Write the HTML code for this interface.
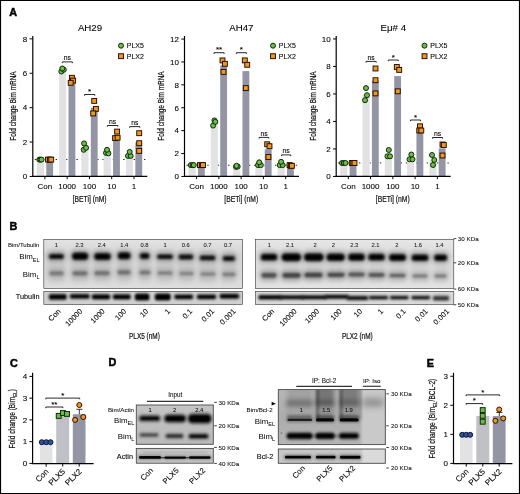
<!DOCTYPE html>
<html><head><meta charset="utf-8"><title>Figure</title>
<style>
html,body{margin:0;padding:0;background:#fff;}
body{width:520px;height:494px;overflow:hidden;font-family:"Liberation Sans",sans-serif;}
svg{display:block;font-family:"Liberation Sans",sans-serif;}
</style></head><body>
<svg width="520" height="494" viewBox="0 0 520 494">
<defs>
<filter id="b05" x="-20%" y="-50%" width="140%" height="200%"><feGaussianBlur stdDeviation="0.5"/></filter>
<filter id="b08" x="-20%" y="-60%" width="140%" height="220%"><feGaussianBlur stdDeviation="0.8"/></filter>
<filter id="b12" x="-30%" y="-80%" width="160%" height="260%"><feGaussianBlur stdDeviation="1.2"/></filter>
<filter id="b20" x="-40%" y="-100%" width="180%" height="300%"><feGaussianBlur stdDeviation="2"/></filter>
<filter id="b35" x="-50%" y="-100%" width="200%" height="300%"><feGaussianBlur stdDeviation="3.5"/></filter>
<linearGradient id="gB" x1="0" y1="0" x2="0" y2="1"><stop offset="0" stop-color="#e3e3e3"/><stop offset="0.32" stop-color="#d4d4d4"/><stop offset="0.72" stop-color="#d6d6d6"/><stop offset="1" stop-color="#dedede"/></linearGradient>
<linearGradient id="gB2" x1="0" y1="0" x2="0" y2="1"><stop offset="0" stop-color="#e7e7e7"/><stop offset="0.32" stop-color="#dbdbdb"/><stop offset="0.72" stop-color="#dcdcdc"/><stop offset="1" stop-color="#e3e3e3"/></linearGradient>
<linearGradient id="gD" x1="0" y1="0" x2="0" y2="1"><stop offset="0" stop-color="#c4c4c4"/><stop offset="1" stop-color="#b9b9b9"/></linearGradient>
<linearGradient id="gIP" x1="0" y1="0" x2="0" y2="1"><stop offset="0" stop-color="#b6b6b6"/><stop offset="0.5" stop-color="#adadad"/><stop offset="1" stop-color="#b4b4b4"/></linearGradient>
</defs>
<rect x="0" y="0" width="520" height="494" fill="#fff"/>
<g opacity="0.999">

<text x="9.30" y="16.30" font-size="10.8" text-anchor="start" font-weight="bold" fill="#000" stroke="#000" stroke-width="0.5">A</text>
<line x1="33.8" y1="159.50" x2="147.3" y2="159.50" stroke="#000" stroke-width="0.85" stroke-dasharray="1.4 3.8" stroke-dashoffset="-1"/>
<rect x="36.80" y="159.60" width="7.15" height="16.60" fill="#e2e2e5"/>
<rect x="46.25" y="159.60" width="6.85" height="16.60" fill="#9395a4"/>
<rect x="59.07" y="69.90" width="7.15" height="106.30" fill="#e2e2e5"/>
<rect x="68.52" y="80.40" width="6.85" height="95.80" fill="#9395a4"/>
<rect x="81.34" y="147.00" width="7.15" height="29.20" fill="#e2e2e5"/>
<rect x="90.79" y="107.73" width="6.85" height="68.47" fill="#9395a4"/>
<rect x="103.61" y="152.00" width="7.15" height="24.20" fill="#e2e2e5"/>
<rect x="113.06" y="135.80" width="6.85" height="40.40" fill="#9395a4"/>
<rect x="125.88" y="154.57" width="7.15" height="21.63" fill="#e2e2e5"/>
<rect x="135.33" y="142.43" width="6.85" height="33.77" fill="#9395a4"/>
<line x1="32.8" y1="36.0" x2="32.8" y2="177.04999999999998" stroke="#000" stroke-width="1.2"/>
<line x1="32.199999999999996" y1="176.45" x2="147.3" y2="176.45" stroke="#000" stroke-width="1.2"/>
<line x1="29.599999999999998" y1="176.45" x2="32.8" y2="176.45" stroke="#000" stroke-width="1.0"/>
<text x="27.30" y="179.20" font-size="8" text-anchor="end" font-weight="normal" fill="#000" stroke="#000" stroke-width="0.1">0</text>
<line x1="29.599999999999998" y1="142.05" x2="32.8" y2="142.05" stroke="#000" stroke-width="1.0"/>
<text x="27.30" y="144.80" font-size="8" text-anchor="end" font-weight="normal" fill="#000" stroke="#000" stroke-width="0.1">2</text>
<line x1="29.599999999999998" y1="107.65" x2="32.8" y2="107.65" stroke="#000" stroke-width="1.0"/>
<text x="27.30" y="110.40" font-size="8" text-anchor="end" font-weight="normal" fill="#000" stroke="#000" stroke-width="0.1">4</text>
<line x1="29.599999999999998" y1="73.25" x2="32.8" y2="73.25" stroke="#000" stroke-width="1.0"/>
<text x="27.30" y="76.00" font-size="8" text-anchor="end" font-weight="normal" fill="#000" stroke="#000" stroke-width="0.1">6</text>
<line x1="29.599999999999998" y1="38.85" x2="32.8" y2="38.85" stroke="#000" stroke-width="1.0"/>
<text x="27.30" y="41.60" font-size="8" text-anchor="end" font-weight="normal" fill="#000" stroke="#000" stroke-width="0.1">8</text>
<line x1="44.90" y1="176.2" x2="44.90" y2="179.2" stroke="#000" stroke-width="1.0"/>
<text x="44.90" y="189.40" font-size="8" text-anchor="middle" font-weight="normal" fill="#000" stroke="#000" stroke-width="0.1">Con</text>
<line x1="67.17" y1="176.2" x2="67.17" y2="179.2" stroke="#000" stroke-width="1.0"/>
<text x="67.17" y="189.40" font-size="8" text-anchor="middle" font-weight="normal" fill="#000" stroke="#000" stroke-width="0.1">1000</text>
<line x1="89.44" y1="176.2" x2="89.44" y2="179.2" stroke="#000" stroke-width="1.0"/>
<text x="89.44" y="189.40" font-size="8" text-anchor="middle" font-weight="normal" fill="#000" stroke="#000" stroke-width="0.1">100</text>
<line x1="111.71" y1="176.2" x2="111.71" y2="179.2" stroke="#000" stroke-width="1.0"/>
<text x="111.71" y="189.40" font-size="8" text-anchor="middle" font-weight="normal" fill="#000" stroke="#000" stroke-width="0.1">10</text>
<line x1="133.98" y1="176.2" x2="133.98" y2="179.2" stroke="#000" stroke-width="1.0"/>
<text x="133.98" y="189.40" font-size="8" text-anchor="middle" font-weight="normal" fill="#000" stroke="#000" stroke-width="0.1">1</text>
<circle cx="39.30" cy="159.60" r="2.5" fill="#6bbd45" stroke="#0b2205" stroke-width="0.95"/>
<circle cx="40.50" cy="159.60" r="2.5" fill="#6bbd45" stroke="#0b2205" stroke-width="0.95"/>
<circle cx="41.60" cy="159.60" r="2.5" fill="#6bbd45" stroke="#0b2205" stroke-width="0.95"/>
<rect x="45.55" y="157.15" width="4.9" height="4.9" fill="#f7941d" stroke="#1d0e00" stroke-width="0.95"/>
<rect x="47.45" y="157.15" width="4.9" height="4.9" fill="#f7941d" stroke="#1d0e00" stroke-width="0.95"/>
<rect x="48.75" y="157.15" width="4.9" height="4.9" fill="#f7941d" stroke="#1d0e00" stroke-width="0.95"/>
<circle cx="61.30" cy="71.50" r="2.5" fill="#6bbd45" stroke="#0b2205" stroke-width="0.95"/>
<circle cx="63.80" cy="69.70" r="2.5" fill="#6bbd45" stroke="#0b2205" stroke-width="0.95"/>
<circle cx="62.30" cy="68.50" r="2.5" fill="#6bbd45" stroke="#0b2205" stroke-width="0.95"/>
<rect x="69.45" y="75.35" width="4.9" height="4.9" fill="#f7941d" stroke="#1d0e00" stroke-width="0.95"/>
<rect x="70.65" y="78.15" width="4.9" height="4.9" fill="#f7941d" stroke="#1d0e00" stroke-width="0.95"/>
<rect x="68.25" y="80.35" width="4.9" height="4.9" fill="#f7941d" stroke="#1d0e00" stroke-width="0.95"/>
<circle cx="83.70" cy="149.80" r="2.5" fill="#6bbd45" stroke="#0b2205" stroke-width="0.95"/>
<circle cx="86.10" cy="147.80" r="2.5" fill="#6bbd45" stroke="#0b2205" stroke-width="0.95"/>
<circle cx="84.10" cy="143.40" r="2.5" fill="#6bbd45" stroke="#0b2205" stroke-width="0.95"/>
<rect x="91.75" y="98.45" width="4.9" height="4.9" fill="#f7941d" stroke="#1d0e00" stroke-width="0.95"/>
<rect x="93.45" y="106.45" width="4.9" height="4.9" fill="#f7941d" stroke="#1d0e00" stroke-width="0.95"/>
<rect x="90.75" y="110.95" width="4.9" height="4.9" fill="#f7941d" stroke="#1d0e00" stroke-width="0.95"/>
<circle cx="106.00" cy="152.90" r="2.5" fill="#6bbd45" stroke="#0b2205" stroke-width="0.95"/>
<circle cx="108.40" cy="153.30" r="2.5" fill="#6bbd45" stroke="#0b2205" stroke-width="0.95"/>
<circle cx="107.00" cy="149.80" r="2.5" fill="#6bbd45" stroke="#0b2205" stroke-width="0.95"/>
<rect x="114.65" y="129.15" width="4.9" height="4.9" fill="#f7941d" stroke="#1d0e00" stroke-width="0.95"/>
<rect x="112.65" y="135.65" width="4.9" height="4.9" fill="#f7941d" stroke="#1d0e00" stroke-width="0.95"/>
<rect x="115.15" y="135.25" width="4.9" height="4.9" fill="#f7941d" stroke="#1d0e00" stroke-width="0.95"/>
<circle cx="128.00" cy="155.90" r="2.5" fill="#6bbd45" stroke="#0b2205" stroke-width="0.95"/>
<circle cx="130.70" cy="155.90" r="2.5" fill="#6bbd45" stroke="#0b2205" stroke-width="0.95"/>
<circle cx="129.70" cy="151.90" r="2.5" fill="#6bbd45" stroke="#0b2205" stroke-width="0.95"/>
<rect x="136.75" y="130.75" width="4.9" height="4.9" fill="#f7941d" stroke="#1d0e00" stroke-width="0.95"/>
<rect x="136.75" y="140.75" width="4.9" height="4.9" fill="#f7941d" stroke="#1d0e00" stroke-width="0.95"/>
<rect x="136.75" y="148.45" width="4.9" height="4.9" fill="#f7941d" stroke="#1d0e00" stroke-width="0.95"/>
<path d="M62.30,63.10 V61.90 H72.40 V63.10" fill="none" stroke="#000" stroke-width="0.85"/>
<text x="67.35" y="60.00" font-size="6.8" text-anchor="middle" font-weight="normal" fill="#000" stroke="#000" stroke-width="0.1">ns</text>
<path d="M84.50,95.70 V94.50 H94.80 V95.70" fill="none" stroke="#000" stroke-width="0.85"/>
<text x="89.65" y="94.20" font-size="8" text-anchor="middle" font-weight="normal" fill="#000" stroke="#000" stroke-width="0.1">*</text>
<path d="M107.40,126.70 V125.50 H117.90 V126.70" fill="none" stroke="#000" stroke-width="0.85"/>
<text x="112.65" y="123.60" font-size="6.8" text-anchor="middle" font-weight="normal" fill="#000" stroke="#000" stroke-width="0.1">ns</text>
<path d="M129.70,127.80 V126.60 H139.80 V127.80" fill="none" stroke="#000" stroke-width="0.85"/>
<text x="134.75" y="124.70" font-size="6.8" text-anchor="middle" font-weight="normal" fill="#000" stroke="#000" stroke-width="0.1">ns</text>
<text x="90.00" y="31.00" font-size="9.7" text-anchor="middle" font-weight="normal" fill="#000" stroke="#000" stroke-width="0.1">AH29</text>
<text transform="translate(16.30,106.00) rotate(-90) scale(0.735,1)" font-size="8.8" text-anchor="middle" fill="#111" stroke="#111" stroke-width="0.22">Fold change Bim mRNA</text>
<text transform="translate(89.60,202.00) rotate(0) scale(0.735,1)" font-size="9.2" text-anchor="middle" fill="#111" stroke="#111" stroke-width="0.22">[BETi] (nM)</text>
<circle cx="121.00" cy="45.70" r="2.5" fill="#6bbd45" stroke="#0b2205" stroke-width="0.95"/>
<text x="126.80" y="48.20" font-size="7" text-anchor="start" font-weight="normal" fill="#000" stroke="#000" stroke-width="0.1">PLX5</text>
<rect x="118.55" y="53.75" width="4.9" height="4.9" fill="#f7941d" stroke="#1d0e00" stroke-width="0.95"/>
<text x="126.80" y="58.70" font-size="7" text-anchor="start" font-weight="normal" fill="#000" stroke="#000" stroke-width="0.1">PLX2</text>
<line x1="185.5" y1="165.25" x2="299.0" y2="165.25" stroke="#000" stroke-width="0.85" stroke-dasharray="1.4 3.8" stroke-dashoffset="-1"/>
<rect x="188.50" y="165.10" width="7.15" height="11.10" fill="#e2e2e5"/>
<rect x="197.95" y="165.10" width="6.85" height="11.10" fill="#9395a4"/>
<rect x="210.77" y="122.60" width="7.15" height="53.60" fill="#e2e2e5"/>
<rect x="220.22" y="65.37" width="6.85" height="110.83" fill="#9395a4"/>
<rect x="233.04" y="166.40" width="7.15" height="9.80" fill="#e2e2e5"/>
<rect x="242.49" y="71.10" width="6.85" height="105.10" fill="#9395a4"/>
<rect x="255.31" y="164.17" width="7.15" height="12.03" fill="#e2e2e5"/>
<rect x="264.76" y="149.17" width="6.85" height="27.03" fill="#9395a4"/>
<rect x="277.58" y="164.00" width="7.15" height="12.20" fill="#e2e2e5"/>
<rect x="287.03" y="165.57" width="6.85" height="10.63" fill="#9395a4"/>
<line x1="184.5" y1="36.0" x2="184.5" y2="177.04999999999998" stroke="#000" stroke-width="1.2"/>
<line x1="183.9" y1="176.45" x2="299.0" y2="176.45" stroke="#000" stroke-width="1.2"/>
<line x1="181.3" y1="176.45" x2="184.5" y2="176.45" stroke="#000" stroke-width="1.0"/>
<text x="179.00" y="179.20" font-size="8" text-anchor="end" font-weight="normal" fill="#000" stroke="#000" stroke-width="0.1">0</text>
<line x1="181.3" y1="153.55" x2="184.5" y2="153.55" stroke="#000" stroke-width="1.0"/>
<text x="179.00" y="156.30" font-size="8" text-anchor="end" font-weight="normal" fill="#000" stroke="#000" stroke-width="0.1">2</text>
<line x1="181.3" y1="130.65" x2="184.5" y2="130.65" stroke="#000" stroke-width="1.0"/>
<text x="179.00" y="133.40" font-size="8" text-anchor="end" font-weight="normal" fill="#000" stroke="#000" stroke-width="0.1">4</text>
<line x1="181.3" y1="107.75" x2="184.5" y2="107.75" stroke="#000" stroke-width="1.0"/>
<text x="179.00" y="110.50" font-size="8" text-anchor="end" font-weight="normal" fill="#000" stroke="#000" stroke-width="0.1">6</text>
<line x1="181.3" y1="84.85" x2="184.5" y2="84.85" stroke="#000" stroke-width="1.0"/>
<text x="179.00" y="87.60" font-size="8" text-anchor="end" font-weight="normal" fill="#000" stroke="#000" stroke-width="0.1">8</text>
<line x1="181.3" y1="61.95" x2="184.5" y2="61.95" stroke="#000" stroke-width="1.0"/>
<text x="179.00" y="64.70" font-size="8" text-anchor="end" font-weight="normal" fill="#000" stroke="#000" stroke-width="0.1">10</text>
<line x1="181.3" y1="39.05" x2="184.5" y2="39.05" stroke="#000" stroke-width="1.0"/>
<text x="179.00" y="41.80" font-size="8" text-anchor="end" font-weight="normal" fill="#000" stroke="#000" stroke-width="0.1">12</text>
<line x1="196.60" y1="176.2" x2="196.60" y2="179.2" stroke="#000" stroke-width="1.0"/>
<text x="196.60" y="189.40" font-size="8" text-anchor="middle" font-weight="normal" fill="#000" stroke="#000" stroke-width="0.1">Con</text>
<line x1="218.87" y1="176.2" x2="218.87" y2="179.2" stroke="#000" stroke-width="1.0"/>
<text x="218.87" y="189.40" font-size="8" text-anchor="middle" font-weight="normal" fill="#000" stroke="#000" stroke-width="0.1">1000</text>
<line x1="241.14" y1="176.2" x2="241.14" y2="179.2" stroke="#000" stroke-width="1.0"/>
<text x="241.14" y="189.40" font-size="8" text-anchor="middle" font-weight="normal" fill="#000" stroke="#000" stroke-width="0.1">100</text>
<line x1="263.41" y1="176.2" x2="263.41" y2="179.2" stroke="#000" stroke-width="1.0"/>
<text x="263.41" y="189.40" font-size="8" text-anchor="middle" font-weight="normal" fill="#000" stroke="#000" stroke-width="0.1">10</text>
<line x1="285.68" y1="176.2" x2="285.68" y2="179.2" stroke="#000" stroke-width="1.0"/>
<text x="285.68" y="189.40" font-size="8" text-anchor="middle" font-weight="normal" fill="#000" stroke="#000" stroke-width="0.1">1</text>
<circle cx="190.80" cy="165.10" r="2.5" fill="#6bbd45" stroke="#0b2205" stroke-width="0.95"/>
<circle cx="192.70" cy="165.10" r="2.5" fill="#6bbd45" stroke="#0b2205" stroke-width="0.95"/>
<circle cx="193.80" cy="165.10" r="2.5" fill="#6bbd45" stroke="#0b2205" stroke-width="0.95"/>
<rect x="197.55" y="162.65" width="4.9" height="4.9" fill="#f7941d" stroke="#1d0e00" stroke-width="0.95"/>
<rect x="199.45" y="162.65" width="4.9" height="4.9" fill="#f7941d" stroke="#1d0e00" stroke-width="0.95"/>
<rect x="200.55" y="162.65" width="4.9" height="4.9" fill="#f7941d" stroke="#1d0e00" stroke-width="0.95"/>
<circle cx="213.10" cy="125.60" r="2.5" fill="#6bbd45" stroke="#0b2205" stroke-width="0.95"/>
<circle cx="214.40" cy="120.40" r="2.5" fill="#6bbd45" stroke="#0b2205" stroke-width="0.95"/>
<circle cx="215.30" cy="121.80" r="2.5" fill="#6bbd45" stroke="#0b2205" stroke-width="0.95"/>
<rect x="220.05" y="57.95" width="4.9" height="4.9" fill="#f7941d" stroke="#1d0e00" stroke-width="0.95"/>
<rect x="222.45" y="61.35" width="4.9" height="4.9" fill="#f7941d" stroke="#1d0e00" stroke-width="0.95"/>
<rect x="221.05" y="69.45" width="4.9" height="4.9" fill="#f7941d" stroke="#1d0e00" stroke-width="0.95"/>
<circle cx="236.10" cy="166.90" r="2.5" fill="#6bbd45" stroke="#0b2205" stroke-width="0.95"/>
<circle cx="237.70" cy="166.50" r="2.5" fill="#6bbd45" stroke="#0b2205" stroke-width="0.95"/>
<circle cx="236.50" cy="165.80" r="2.5" fill="#6bbd45" stroke="#0b2205" stroke-width="0.95"/>
<rect x="242.35" y="57.95" width="4.9" height="4.9" fill="#f7941d" stroke="#1d0e00" stroke-width="0.95"/>
<rect x="244.75" y="62.35" width="4.9" height="4.9" fill="#f7941d" stroke="#1d0e00" stroke-width="0.95"/>
<rect x="243.35" y="85.65" width="4.9" height="4.9" fill="#f7941d" stroke="#1d0e00" stroke-width="0.95"/>
<circle cx="258.00" cy="165.10" r="2.5" fill="#6bbd45" stroke="#0b2205" stroke-width="0.95"/>
<circle cx="260.80" cy="165.10" r="2.5" fill="#6bbd45" stroke="#0b2205" stroke-width="0.95"/>
<circle cx="259.20" cy="162.30" r="2.5" fill="#6bbd45" stroke="#0b2205" stroke-width="0.95"/>
<rect x="264.75" y="141.85" width="4.9" height="4.9" fill="#f7941d" stroke="#1d0e00" stroke-width="0.95"/>
<rect x="267.05" y="143.75" width="4.9" height="4.9" fill="#f7941d" stroke="#1d0e00" stroke-width="0.95"/>
<rect x="265.95" y="154.55" width="4.9" height="4.9" fill="#f7941d" stroke="#1d0e00" stroke-width="0.95"/>
<circle cx="279.70" cy="165.10" r="2.5" fill="#6bbd45" stroke="#0b2205" stroke-width="0.95"/>
<circle cx="282.70" cy="165.10" r="2.5" fill="#6bbd45" stroke="#0b2205" stroke-width="0.95"/>
<circle cx="281.10" cy="161.80" r="2.5" fill="#6bbd45" stroke="#0b2205" stroke-width="0.95"/>
<rect x="287.15" y="162.65" width="4.9" height="4.9" fill="#f7941d" stroke="#1d0e00" stroke-width="0.95"/>
<rect x="288.35" y="163.35" width="4.9" height="4.9" fill="#f7941d" stroke="#1d0e00" stroke-width="0.95"/>
<rect x="289.45" y="163.35" width="4.9" height="4.9" fill="#f7941d" stroke="#1d0e00" stroke-width="0.95"/>
<path d="M214.00,53.90 V52.70 H224.10 V53.90" fill="none" stroke="#000" stroke-width="0.85"/>
<text x="219.05" y="52.40" font-size="8" text-anchor="middle" font-weight="normal" fill="#000" stroke="#000" stroke-width="0.1">**</text>
<path d="M236.30,53.90 V52.70 H246.40 V53.90" fill="none" stroke="#000" stroke-width="0.85"/>
<text x="241.35" y="52.40" font-size="8" text-anchor="middle" font-weight="normal" fill="#000" stroke="#000" stroke-width="0.1">*</text>
<path d="M259.20,138.60 V137.40 H268.80 V138.60" fill="none" stroke="#000" stroke-width="0.85"/>
<text x="264.00" y="135.50" font-size="6.8" text-anchor="middle" font-weight="normal" fill="#000" stroke="#000" stroke-width="0.1">ns</text>
<path d="M281.50,156.10 V154.90 H290.80 V156.10" fill="none" stroke="#000" stroke-width="0.85"/>
<text x="286.15" y="153.00" font-size="6.8" text-anchor="middle" font-weight="normal" fill="#000" stroke="#000" stroke-width="0.1">ns</text>
<text x="241.30" y="31.00" font-size="9.7" text-anchor="middle" font-weight="normal" fill="#000" stroke="#000" stroke-width="0.1">AH47</text>
<text transform="translate(164.20,106.00) rotate(-90) scale(0.735,1)" font-size="8.8" text-anchor="middle" fill="#111" stroke="#111" stroke-width="0.22">Fold change Bim mRNA</text>
<text transform="translate(241.30,202.00) rotate(0) scale(0.735,1)" font-size="9.2" text-anchor="middle" fill="#111" stroke="#111" stroke-width="0.22">[BETi] (nM)</text>
<circle cx="273.00" cy="45.70" r="2.5" fill="#6bbd45" stroke="#0b2205" stroke-width="0.95"/>
<text x="278.80" y="48.20" font-size="7" text-anchor="start" font-weight="normal" fill="#000" stroke="#000" stroke-width="0.1">PLX5</text>
<rect x="270.55" y="53.75" width="4.9" height="4.9" fill="#f7941d" stroke="#1d0e00" stroke-width="0.95"/>
<text x="278.80" y="58.70" font-size="7" text-anchor="start" font-weight="normal" fill="#000" stroke="#000" stroke-width="0.1">PLX2</text>
<line x1="337.2" y1="162.95" x2="450.7" y2="162.95" stroke="#000" stroke-width="0.85" stroke-dasharray="1.4 3.8" stroke-dashoffset="-1"/>
<rect x="340.20" y="163.00" width="7.15" height="13.20" fill="#e2e2e5"/>
<rect x="349.65" y="163.00" width="6.85" height="13.20" fill="#9395a4"/>
<rect x="362.47" y="94.50" width="7.15" height="81.70" fill="#e2e2e5"/>
<rect x="371.92" y="80.70" width="6.85" height="95.50" fill="#9395a4"/>
<rect x="384.74" y="154.20" width="7.15" height="22.00" fill="#e2e2e5"/>
<rect x="394.19" y="76.07" width="6.85" height="100.13" fill="#9395a4"/>
<rect x="407.01" y="157.70" width="7.15" height="18.50" fill="#e2e2e5"/>
<rect x="416.46" y="129.10" width="6.85" height="47.10" fill="#9395a4"/>
<rect x="429.28" y="160.00" width="7.15" height="16.20" fill="#e2e2e5"/>
<rect x="438.73" y="148.33" width="6.85" height="27.87" fill="#9395a4"/>
<line x1="336.2" y1="36.0" x2="336.2" y2="177.04999999999998" stroke="#000" stroke-width="1.2"/>
<line x1="335.59999999999997" y1="176.45" x2="450.7" y2="176.45" stroke="#000" stroke-width="1.2"/>
<line x1="333.0" y1="176.45" x2="336.2" y2="176.45" stroke="#000" stroke-width="1.0"/>
<text x="330.70" y="179.20" font-size="8" text-anchor="end" font-weight="normal" fill="#000" stroke="#000" stroke-width="0.1">0</text>
<line x1="333.0" y1="148.95" x2="336.2" y2="148.95" stroke="#000" stroke-width="1.0"/>
<text x="330.70" y="151.70" font-size="8" text-anchor="end" font-weight="normal" fill="#000" stroke="#000" stroke-width="0.1">2</text>
<line x1="333.0" y1="121.45" x2="336.2" y2="121.45" stroke="#000" stroke-width="1.0"/>
<text x="330.70" y="124.20" font-size="8" text-anchor="end" font-weight="normal" fill="#000" stroke="#000" stroke-width="0.1">4</text>
<line x1="333.0" y1="93.95" x2="336.2" y2="93.95" stroke="#000" stroke-width="1.0"/>
<text x="330.70" y="96.70" font-size="8" text-anchor="end" font-weight="normal" fill="#000" stroke="#000" stroke-width="0.1">6</text>
<line x1="333.0" y1="66.45" x2="336.2" y2="66.45" stroke="#000" stroke-width="1.0"/>
<text x="330.70" y="69.20" font-size="8" text-anchor="end" font-weight="normal" fill="#000" stroke="#000" stroke-width="0.1">8</text>
<line x1="333.0" y1="38.95" x2="336.2" y2="38.95" stroke="#000" stroke-width="1.0"/>
<text x="330.70" y="41.70" font-size="8" text-anchor="end" font-weight="normal" fill="#000" stroke="#000" stroke-width="0.1">10</text>
<line x1="348.30" y1="176.2" x2="348.30" y2="179.2" stroke="#000" stroke-width="1.0"/>
<text x="348.30" y="189.40" font-size="8" text-anchor="middle" font-weight="normal" fill="#000" stroke="#000" stroke-width="0.1">Con</text>
<line x1="370.57" y1="176.2" x2="370.57" y2="179.2" stroke="#000" stroke-width="1.0"/>
<text x="370.57" y="189.40" font-size="8" text-anchor="middle" font-weight="normal" fill="#000" stroke="#000" stroke-width="0.1">1000</text>
<line x1="392.84" y1="176.2" x2="392.84" y2="179.2" stroke="#000" stroke-width="1.0"/>
<text x="392.84" y="189.40" font-size="8" text-anchor="middle" font-weight="normal" fill="#000" stroke="#000" stroke-width="0.1">100</text>
<line x1="415.11" y1="176.2" x2="415.11" y2="179.2" stroke="#000" stroke-width="1.0"/>
<text x="415.11" y="189.40" font-size="8" text-anchor="middle" font-weight="normal" fill="#000" stroke="#000" stroke-width="0.1">10</text>
<line x1="437.38" y1="176.2" x2="437.38" y2="179.2" stroke="#000" stroke-width="1.0"/>
<text x="437.38" y="189.40" font-size="8" text-anchor="middle" font-weight="normal" fill="#000" stroke="#000" stroke-width="0.1">1</text>
<circle cx="342.00" cy="163.00" r="2.5" fill="#6bbd45" stroke="#0b2205" stroke-width="0.95"/>
<circle cx="343.80" cy="163.00" r="2.5" fill="#6bbd45" stroke="#0b2205" stroke-width="0.95"/>
<circle cx="345.50" cy="163.00" r="2.5" fill="#6bbd45" stroke="#0b2205" stroke-width="0.95"/>
<rect x="349.35" y="160.55" width="4.9" height="4.9" fill="#f7941d" stroke="#1d0e00" stroke-width="0.95"/>
<rect x="350.85" y="160.55" width="4.9" height="4.9" fill="#f7941d" stroke="#1d0e00" stroke-width="0.95"/>
<rect x="352.05" y="160.55" width="4.9" height="4.9" fill="#f7941d" stroke="#1d0e00" stroke-width="0.95"/>
<circle cx="365.00" cy="100.20" r="2.5" fill="#6bbd45" stroke="#0b2205" stroke-width="0.95"/>
<circle cx="367.00" cy="95.20" r="2.5" fill="#6bbd45" stroke="#0b2205" stroke-width="0.95"/>
<circle cx="366.00" cy="88.10" r="2.5" fill="#6bbd45" stroke="#0b2205" stroke-width="0.95"/>
<rect x="373.05" y="66.05" width="4.9" height="4.9" fill="#f7941d" stroke="#1d0e00" stroke-width="0.95"/>
<rect x="373.05" y="77.75" width="4.9" height="4.9" fill="#f7941d" stroke="#1d0e00" stroke-width="0.95"/>
<rect x="373.05" y="90.95" width="4.9" height="4.9" fill="#f7941d" stroke="#1d0e00" stroke-width="0.95"/>
<circle cx="387.50" cy="156.30" r="2.5" fill="#6bbd45" stroke="#0b2205" stroke-width="0.95"/>
<circle cx="390.00" cy="156.30" r="2.5" fill="#6bbd45" stroke="#0b2205" stroke-width="0.95"/>
<circle cx="388.80" cy="150.00" r="2.5" fill="#6bbd45" stroke="#0b2205" stroke-width="0.95"/>
<rect x="394.35" y="64.55" width="4.9" height="4.9" fill="#f7941d" stroke="#1d0e00" stroke-width="0.95"/>
<rect x="396.75" y="67.45" width="4.9" height="4.9" fill="#f7941d" stroke="#1d0e00" stroke-width="0.95"/>
<rect x="395.35" y="88.85" width="4.9" height="4.9" fill="#f7941d" stroke="#1d0e00" stroke-width="0.95"/>
<circle cx="409.50" cy="159.30" r="2.5" fill="#6bbd45" stroke="#0b2205" stroke-width="0.95"/>
<circle cx="412.50" cy="159.30" r="2.5" fill="#6bbd45" stroke="#0b2205" stroke-width="0.95"/>
<circle cx="411.30" cy="154.50" r="2.5" fill="#6bbd45" stroke="#0b2205" stroke-width="0.95"/>
<rect x="417.55" y="123.85" width="4.9" height="4.9" fill="#f7941d" stroke="#1d0e00" stroke-width="0.95"/>
<rect x="416.85" y="128.05" width="4.9" height="4.9" fill="#f7941d" stroke="#1d0e00" stroke-width="0.95"/>
<rect x="418.85" y="128.05" width="4.9" height="4.9" fill="#f7941d" stroke="#1d0e00" stroke-width="0.95"/>
<circle cx="433.00" cy="165.00" r="2.5" fill="#6bbd45" stroke="#0b2205" stroke-width="0.95"/>
<circle cx="434.30" cy="160.00" r="2.5" fill="#6bbd45" stroke="#0b2205" stroke-width="0.95"/>
<circle cx="432.00" cy="155.00" r="2.5" fill="#6bbd45" stroke="#0b2205" stroke-width="0.95"/>
<rect x="440.05" y="153.05" width="4.9" height="4.9" fill="#f7941d" stroke="#1d0e00" stroke-width="0.95"/>
<rect x="440.05" y="142.05" width="4.9" height="4.9" fill="#f7941d" stroke="#1d0e00" stroke-width="0.95"/>
<rect x="441.35" y="142.55" width="4.9" height="4.9" fill="#f7941d" stroke="#1d0e00" stroke-width="0.95"/>
<path d="M366.00,62.60 V61.40 H376.20 V62.60" fill="none" stroke="#000" stroke-width="0.85"/>
<text x="371.10" y="59.50" font-size="6.8" text-anchor="middle" font-weight="normal" fill="#000" stroke="#000" stroke-width="0.1">ns</text>
<path d="M388.30,61.20 V60.00 H398.20 V61.20" fill="none" stroke="#000" stroke-width="0.85"/>
<text x="393.25" y="59.70" font-size="8" text-anchor="middle" font-weight="normal" fill="#000" stroke="#000" stroke-width="0.1">*</text>
<path d="M410.50,121.20 V120.00 H420.50 V121.20" fill="none" stroke="#000" stroke-width="0.85"/>
<text x="415.50" y="119.70" font-size="8" text-anchor="middle" font-weight="normal" fill="#000" stroke="#000" stroke-width="0.1">*</text>
<path d="M432.50,138.70 V137.50 H442.50 V138.70" fill="none" stroke="#000" stroke-width="0.85"/>
<text x="437.50" y="135.60" font-size="6.8" text-anchor="middle" font-weight="normal" fill="#000" stroke="#000" stroke-width="0.1">ns</text>
<text x="393.30" y="31.00" font-size="9.7" text-anchor="middle" font-weight="normal" fill="#000" stroke="#000" stroke-width="0.1">E&#956;# 4</text>
<text transform="translate(316.30,106.00) rotate(-90) scale(0.735,1)" font-size="8.8" text-anchor="middle" fill="#111" stroke="#111" stroke-width="0.22">Fold change Bim mRNA</text>
<text transform="translate(392.70,202.00) rotate(0) scale(0.735,1)" font-size="9.2" text-anchor="middle" fill="#111" stroke="#111" stroke-width="0.22">[BETi] (nM)</text>
<circle cx="424.50" cy="45.70" r="2.5" fill="#6bbd45" stroke="#0b2205" stroke-width="0.95"/>
<text x="430.30" y="48.20" font-size="7" text-anchor="start" font-weight="normal" fill="#000" stroke="#000" stroke-width="0.1">PLX5</text>
<rect x="422.05" y="53.75" width="4.9" height="4.9" fill="#f7941d" stroke="#1d0e00" stroke-width="0.95"/>
<text x="430.30" y="58.70" font-size="7" text-anchor="start" font-weight="normal" fill="#000" stroke="#000" stroke-width="0.1">PLX2</text>
<text x="9.50" y="229.60" font-size="10.8" text-anchor="start" font-weight="bold" fill="#000" stroke="#000" stroke-width="0.5">B</text>
<clipPath id="c1a"><rect x="43.8" y="239.3" width="198.7" height="49.3"/></clipPath>
<clipPath id="c1b"><rect x="43.8" y="291.3" width="198.7" height="13.2"/></clipPath>
<rect x="43.8" y="239.3" width="198.7" height="49.3" fill="url(#gB)"/>
<g clip-path="url(#c1a)">
<rect x="47.80" y="250" width="17.20" height="33" rx="4" fill="#000" opacity="0.055" filter="url(#b20)"/>
<rect x="70.70" y="250" width="18.80" height="33" rx="4" fill="#000" opacity="0.055" filter="url(#b20)"/>
<rect x="93.00" y="250" width="19.00" height="33" rx="4" fill="#000" opacity="0.055" filter="url(#b20)"/>
<rect x="116.50" y="250" width="15.30" height="33" rx="4" fill="#000" opacity="0.055" filter="url(#b20)"/>
<rect x="138.50" y="250" width="12.30" height="33" rx="4" fill="#000" opacity="0.055" filter="url(#b20)"/>
<rect x="156.00" y="250" width="18.00" height="33" rx="4" fill="#000" opacity="0.055" filter="url(#b20)"/>
<rect x="177.40" y="250" width="17.00" height="33" rx="4" fill="#000" opacity="0.055" filter="url(#b20)"/>
<rect x="198.50" y="250" width="18.10" height="33" rx="4" fill="#000" opacity="0.055" filter="url(#b20)"/>
<rect x="221.50" y="250" width="14.70" height="33" rx="4" fill="#000" opacity="0.055" filter="url(#b20)"/>
<rect x="46.80" y="250.90" width="19.20" height="10.60" rx="5.30" fill="#000" opacity="0.2" filter="url(#b20)"/>
<rect x="48.55" y="253.40" width="15.70" height="6.20" rx="3.10" fill="#000" opacity="0.5" filter="url(#b12)"/>
<rect x="50.10" y="254.90" width="12.60" height="3.20" rx="1.60" fill="#000" opacity="1.0" filter="url(#b08)"/>
<rect x="69.70" y="249.50" width="20.80" height="13.00" rx="6.50" fill="#000" opacity="0.2" filter="url(#b20)"/>
<rect x="71.45" y="252.00" width="17.30" height="8.60" rx="4.30" fill="#000" opacity="0.5" filter="url(#b12)"/>
<rect x="73.00" y="253.50" width="14.20" height="5.60" rx="2.80" fill="#000" opacity="1.0" filter="url(#b08)"/>
<rect x="92.00" y="249.95" width="21.00" height="12.50" rx="6.25" fill="#000" opacity="0.2" filter="url(#b20)"/>
<rect x="93.75" y="252.45" width="17.50" height="8.10" rx="4.05" fill="#000" opacity="0.5" filter="url(#b12)"/>
<rect x="95.30" y="253.95" width="14.40" height="5.10" rx="2.55" fill="#000" opacity="1.0" filter="url(#b08)"/>
<rect x="115.50" y="249.25" width="17.30" height="12.50" rx="6.25" fill="#000" opacity="0.2" filter="url(#b20)"/>
<rect x="117.25" y="251.75" width="13.80" height="8.10" rx="4.05" fill="#000" opacity="0.5" filter="url(#b12)"/>
<rect x="118.80" y="253.25" width="10.70" height="5.10" rx="2.55" fill="#000" opacity="1.0" filter="url(#b08)"/>
<rect x="137.50" y="249.95" width="14.30" height="11.50" rx="5.75" fill="#000" opacity="0.19" filter="url(#b20)"/>
<rect x="139.25" y="252.45" width="10.80" height="7.10" rx="3.55" fill="#000" opacity="0.475" filter="url(#b12)"/>
<rect x="140.80" y="253.95" width="7.70" height="4.10" rx="2.05" fill="#000" opacity="0.95" filter="url(#b08)"/>
<rect x="155.00" y="251.50" width="20.00" height="10.00" rx="5.00" fill="#000" opacity="0.2" filter="url(#b20)"/>
<rect x="156.75" y="254.00" width="16.50" height="5.60" rx="2.80" fill="#000" opacity="0.5" filter="url(#b12)"/>
<rect x="158.30" y="255.50" width="13.40" height="2.60" rx="1.30" fill="#000" opacity="1.0" filter="url(#b08)"/>
<rect x="176.40" y="251.55" width="19.00" height="10.30" rx="5.15" fill="#000" opacity="0.19" filter="url(#b20)"/>
<rect x="178.15" y="254.05" width="15.50" height="5.90" rx="2.95" fill="#000" opacity="0.475" filter="url(#b12)"/>
<rect x="179.70" y="255.55" width="12.40" height="2.90" rx="1.45" fill="#000" opacity="0.95" filter="url(#b08)"/>
<rect x="197.50" y="252.45" width="20.10" height="10.30" rx="5.15" fill="#000" opacity="0.19" filter="url(#b20)"/>
<rect x="199.25" y="254.95" width="16.60" height="5.90" rx="2.95" fill="#000" opacity="0.475" filter="url(#b12)"/>
<rect x="200.80" y="256.45" width="13.50" height="2.90" rx="1.45" fill="#000" opacity="0.95" filter="url(#b08)"/>
<rect x="220.50" y="252.95" width="16.70" height="10.50" rx="5.25" fill="#000" opacity="0.19" filter="url(#b20)"/>
<rect x="222.25" y="255.45" width="13.20" height="6.10" rx="3.05" fill="#000" opacity="0.475" filter="url(#b12)"/>
<rect x="223.80" y="256.95" width="10.10" height="3.10" rx="1.55" fill="#000" opacity="0.95" filter="url(#b08)"/>
<rect x="47.50" y="268.30" width="18.00" height="10.00" rx="5.00" fill="#000" opacity="0.13" filter="url(#b20)"/>
<rect x="49.50" y="271.20" width="14.00" height="4.20" rx="2.10" fill="#000" opacity="0.3" filter="url(#b12)"/>
<rect x="70.50" y="268.30" width="19.00" height="10.00" rx="5.00" fill="#000" opacity="0.1495" filter="url(#b20)"/>
<rect x="72.50" y="271.20" width="15.00" height="4.20" rx="2.10" fill="#000" opacity="0.345" filter="url(#b12)"/>
<rect x="92.50" y="268.20" width="19.00" height="10.00" rx="5.00" fill="#000" opacity="0.14300000000000002" filter="url(#b20)"/>
<rect x="94.50" y="271.10" width="15.00" height="4.20" rx="2.10" fill="#000" opacity="0.33" filter="url(#b12)"/>
<rect x="115.50" y="267.30" width="17.00" height="10.00" rx="5.00" fill="#000" opacity="0.1495" filter="url(#b20)"/>
<rect x="117.50" y="270.20" width="13.00" height="4.20" rx="2.10" fill="#000" opacity="0.345" filter="url(#b12)"/>
<rect x="137.50" y="267.50" width="15.00" height="10.00" rx="5.00" fill="#000" opacity="0.1365" filter="url(#b20)"/>
<rect x="139.50" y="270.40" width="11.00" height="4.20" rx="2.10" fill="#000" opacity="0.315" filter="url(#b12)"/>
<rect x="155.50" y="268.25" width="19.00" height="9.50" rx="4.75" fill="#000" opacity="0.117" filter="url(#b20)"/>
<rect x="157.50" y="271.15" width="15.00" height="3.70" rx="1.85" fill="#000" opacity="0.27" filter="url(#b12)"/>
<rect x="177.50" y="268.75" width="18.00" height="9.50" rx="4.75" fill="#000" opacity="0.1105" filter="url(#b20)"/>
<rect x="179.50" y="271.65" width="14.00" height="3.70" rx="1.85" fill="#000" opacity="0.255" filter="url(#b12)"/>
<rect x="198.50" y="269.25" width="19.00" height="9.50" rx="4.75" fill="#000" opacity="0.1105" filter="url(#b20)"/>
<rect x="200.50" y="272.15" width="15.00" height="3.70" rx="1.85" fill="#000" opacity="0.255" filter="url(#b12)"/>
<rect x="220.50" y="269.55" width="17.00" height="9.50" rx="4.75" fill="#000" opacity="0.1235" filter="url(#b20)"/>
<rect x="222.50" y="272.45" width="13.00" height="3.70" rx="1.85" fill="#000" opacity="0.285" filter="url(#b12)"/>
</g>
<rect x="43.8" y="239.3" width="198.7" height="49.3" fill="none" stroke="#333" stroke-width="0.6"/>
<rect x="43.8" y="291.3" width="198.7" height="13.2" fill="#d0d0d0"/>
<g clip-path="url(#c1b)">
<rect x="47.75" y="292.90" width="20.00" height="8.00" rx="4.00" fill="#000" opacity="0.28" filter="url(#b12)"/>
<rect x="49.30" y="294.50" width="16.90" height="4.80" rx="1.60" fill="#000" opacity="1.0" filter="url(#b08)"/>
<rect x="68.75" y="292.80" width="22.00" height="7.00" rx="3.50" fill="#000" opacity="0.28" filter="url(#b12)"/>
<rect x="70.30" y="294.40" width="18.90" height="3.80" rx="1.60" fill="#000" opacity="1.0" filter="url(#b08)"/>
<rect x="90.75" y="293.10" width="20.50" height="7.40" rx="3.70" fill="#000" opacity="0.28" filter="url(#b12)"/>
<rect x="92.30" y="294.70" width="17.40" height="4.20" rx="1.60" fill="#000" opacity="1.0" filter="url(#b08)"/>
<rect x="111.75" y="293.10" width="20.00" height="7.40" rx="3.70" fill="#000" opacity="0.28" filter="url(#b12)"/>
<rect x="113.30" y="294.70" width="16.90" height="4.20" rx="1.60" fill="#000" opacity="1.0" filter="url(#b08)"/>
<rect x="133.75" y="292.30" width="16.80" height="9.20" rx="4.60" fill="#000" opacity="0.28" filter="url(#b12)"/>
<rect x="135.30" y="293.90" width="13.70" height="6.00" rx="1.60" fill="#000" opacity="1.0" filter="url(#b08)"/>
<rect x="153.75" y="292.30" width="18.00" height="9.20" rx="4.60" fill="#000" opacity="0.28" filter="url(#b12)"/>
<rect x="155.30" y="293.90" width="14.90" height="6.00" rx="1.60" fill="#000" opacity="1.0" filter="url(#b08)"/>
<rect x="173.25" y="293.30" width="21.00" height="7.00" rx="3.50" fill="#000" opacity="0.28" filter="url(#b12)"/>
<rect x="174.80" y="294.90" width="17.90" height="3.80" rx="1.60" fill="#000" opacity="1.0" filter="url(#b08)"/>
<rect x="195.75" y="293.30" width="21.50" height="7.00" rx="3.50" fill="#000" opacity="0.28" filter="url(#b12)"/>
<rect x="197.30" y="294.90" width="18.40" height="3.80" rx="1.60" fill="#000" opacity="1.0" filter="url(#b08)"/>
<rect x="218.55" y="292.60" width="21.70" height="7.20" rx="3.60" fill="#000" opacity="0.28" filter="url(#b12)"/>
<rect x="220.10" y="294.20" width="18.60" height="4.00" rx="1.60" fill="#000" opacity="1.0" filter="url(#b08)"/>
</g>
<rect x="43.8" y="291.3" width="198.7" height="13.2" fill="none" stroke="#333" stroke-width="0.6"/>
<text x="56.30" y="247.20" font-size="5.8" text-anchor="middle" font-weight="normal" fill="#222" stroke="#222" stroke-width="0.08">1</text>
<text x="79.50" y="247.20" font-size="5.8" text-anchor="middle" font-weight="normal" fill="#222" stroke="#222" stroke-width="0.08">2.3</text>
<text x="101.80" y="247.20" font-size="5.8" text-anchor="middle" font-weight="normal" fill="#222" stroke="#222" stroke-width="0.08">2.4</text>
<text x="124.30" y="247.20" font-size="5.8" text-anchor="middle" font-weight="normal" fill="#222" stroke="#222" stroke-width="0.08">1.4</text>
<text x="144.50" y="247.20" font-size="5.8" text-anchor="middle" font-weight="normal" fill="#222" stroke="#222" stroke-width="0.08">0.8</text>
<text x="165.00" y="247.20" font-size="5.8" text-anchor="middle" font-weight="normal" fill="#222" stroke="#222" stroke-width="0.08">1</text>
<text x="185.80" y="247.20" font-size="5.8" text-anchor="middle" font-weight="normal" fill="#222" stroke="#222" stroke-width="0.08">0.6</text>
<text x="207.50" y="247.20" font-size="5.8" text-anchor="middle" font-weight="normal" fill="#222" stroke="#222" stroke-width="0.08">0.7</text>
<text x="228.00" y="247.20" font-size="5.8" text-anchor="middle" font-weight="normal" fill="#222" stroke="#222" stroke-width="0.08">0.7</text>
<clipPath id="c2a"><rect x="255.5" y="239.3" width="198.3" height="49.3"/></clipPath>
<clipPath id="c2b"><rect x="255.5" y="291.3" width="198.3" height="13.2"/></clipPath>
<rect x="255.5" y="239.3" width="198.3" height="49.3" fill="url(#gB2)"/>
<g clip-path="url(#c2a)">
<rect x="259.50" y="250" width="19.00" height="33" rx="4" fill="#000" opacity="0.04" filter="url(#b20)"/>
<rect x="280.30" y="250" width="22.00" height="33" rx="4" fill="#000" opacity="0.04" filter="url(#b20)"/>
<rect x="302.80" y="250" width="22.00" height="33" rx="4" fill="#000" opacity="0.04" filter="url(#b20)"/>
<rect x="325.30" y="250" width="20.70" height="33" rx="4" fill="#000" opacity="0.04" filter="url(#b20)"/>
<rect x="347.00" y="250" width="19.00" height="33" rx="4" fill="#000" opacity="0.04" filter="url(#b20)"/>
<rect x="367.00" y="250" width="19.00" height="33" rx="4" fill="#000" opacity="0.04" filter="url(#b20)"/>
<rect x="387.80" y="250" width="19.50" height="33" rx="4" fill="#000" opacity="0.04" filter="url(#b20)"/>
<rect x="410.30" y="250" width="19.50" height="33" rx="4" fill="#000" opacity="0.04" filter="url(#b20)"/>
<rect x="432.80" y="250" width="15.70" height="33" rx="4" fill="#000" opacity="0.04" filter="url(#b20)"/>
<rect x="258.50" y="250.80" width="21.00" height="12.20" rx="6.10" fill="#000" opacity="0.2" filter="url(#b20)"/>
<rect x="260.25" y="253.30" width="17.50" height="7.80" rx="3.90" fill="#000" opacity="0.5" filter="url(#b12)"/>
<rect x="261.80" y="254.80" width="14.40" height="4.80" rx="2.40" fill="#000" opacity="1.0" filter="url(#b08)"/>
<rect x="279.30" y="250.25" width="24.00" height="13.30" rx="6.65" fill="#000" opacity="0.2" filter="url(#b20)"/>
<rect x="281.05" y="252.75" width="20.50" height="8.90" rx="4.45" fill="#000" opacity="0.5" filter="url(#b12)"/>
<rect x="282.60" y="254.25" width="17.40" height="5.90" rx="2.95" fill="#000" opacity="1.0" filter="url(#b08)"/>
<rect x="301.80" y="250.25" width="24.00" height="13.30" rx="6.65" fill="#000" opacity="0.2" filter="url(#b20)"/>
<rect x="303.55" y="252.75" width="20.50" height="8.90" rx="4.45" fill="#000" opacity="0.5" filter="url(#b12)"/>
<rect x="305.10" y="254.25" width="17.40" height="5.90" rx="2.95" fill="#000" opacity="1.0" filter="url(#b08)"/>
<rect x="324.30" y="250.40" width="22.70" height="13.00" rx="6.50" fill="#000" opacity="0.2" filter="url(#b20)"/>
<rect x="326.05" y="252.90" width="19.20" height="8.60" rx="4.30" fill="#000" opacity="0.5" filter="url(#b12)"/>
<rect x="327.60" y="254.40" width="16.10" height="5.60" rx="2.80" fill="#000" opacity="1.0" filter="url(#b08)"/>
<rect x="346.00" y="250.60" width="21.00" height="12.60" rx="6.30" fill="#000" opacity="0.2" filter="url(#b20)"/>
<rect x="347.75" y="253.10" width="17.50" height="8.20" rx="4.10" fill="#000" opacity="0.5" filter="url(#b12)"/>
<rect x="349.30" y="254.60" width="14.40" height="5.20" rx="2.60" fill="#000" opacity="1.0" filter="url(#b08)"/>
<rect x="366.00" y="250.80" width="21.00" height="12.20" rx="6.10" fill="#000" opacity="0.2" filter="url(#b20)"/>
<rect x="367.75" y="253.30" width="17.50" height="7.80" rx="3.90" fill="#000" opacity="0.5" filter="url(#b12)"/>
<rect x="369.30" y="254.80" width="14.40" height="4.80" rx="2.40" fill="#000" opacity="1.0" filter="url(#b08)"/>
<rect x="386.80" y="250.95" width="21.50" height="12.50" rx="6.25" fill="#000" opacity="0.2" filter="url(#b20)"/>
<rect x="388.55" y="253.45" width="18.00" height="8.10" rx="4.05" fill="#000" opacity="0.5" filter="url(#b12)"/>
<rect x="390.10" y="254.95" width="14.90" height="5.10" rx="2.55" fill="#000" opacity="1.0" filter="url(#b08)"/>
<rect x="409.30" y="251.50" width="21.50" height="12.00" rx="6.00" fill="#000" opacity="0.2" filter="url(#b20)"/>
<rect x="411.05" y="254.00" width="18.00" height="7.60" rx="3.80" fill="#000" opacity="0.5" filter="url(#b12)"/>
<rect x="412.60" y="255.50" width="14.90" height="4.60" rx="2.30" fill="#000" opacity="1.0" filter="url(#b08)"/>
<rect x="431.80" y="251.50" width="17.70" height="12.00" rx="6.00" fill="#000" opacity="0.2" filter="url(#b20)"/>
<rect x="433.55" y="254.00" width="14.20" height="7.60" rx="3.80" fill="#000" opacity="0.5" filter="url(#b12)"/>
<rect x="435.10" y="255.50" width="11.10" height="4.60" rx="2.30" fill="#000" opacity="1.0" filter="url(#b08)"/>
<rect x="259.50" y="270.05" width="19.00" height="10.50" rx="5.25" fill="#000" opacity="0.221" filter="url(#b20)"/>
<rect x="261.50" y="272.95" width="15.00" height="4.70" rx="2.35" fill="#000" opacity="0.51" filter="url(#b12)"/>
<rect x="280.50" y="270.05" width="22.00" height="10.50" rx="5.25" fill="#000" opacity="0.247" filter="url(#b20)"/>
<rect x="282.50" y="272.95" width="18.00" height="4.70" rx="2.35" fill="#000" opacity="0.57" filter="url(#b12)"/>
<rect x="302.50" y="269.75" width="22.00" height="10.50" rx="5.25" fill="#000" opacity="0.247" filter="url(#b20)"/>
<rect x="304.50" y="272.65" width="18.00" height="4.70" rx="2.35" fill="#000" opacity="0.57" filter="url(#b12)"/>
<rect x="325.50" y="269.80" width="21.00" height="10.00" rx="5.00" fill="#000" opacity="0.234" filter="url(#b20)"/>
<rect x="327.50" y="272.70" width="17.00" height="4.20" rx="2.10" fill="#000" opacity="0.54" filter="url(#b12)"/>
<rect x="346.50" y="269.50" width="20.00" height="10.00" rx="5.00" fill="#000" opacity="0.20800000000000002" filter="url(#b20)"/>
<rect x="348.50" y="272.40" width="16.00" height="4.20" rx="2.10" fill="#000" opacity="0.48" filter="url(#b12)"/>
<rect x="366.50" y="270.00" width="20.00" height="10.00" rx="5.00" fill="#000" opacity="0.20800000000000002" filter="url(#b20)"/>
<rect x="368.50" y="272.90" width="16.00" height="4.20" rx="2.10" fill="#000" opacity="0.48" filter="url(#b12)"/>
<rect x="387.50" y="270.75" width="20.00" height="9.50" rx="4.75" fill="#000" opacity="0.182" filter="url(#b20)"/>
<rect x="389.50" y="273.65" width="16.00" height="3.70" rx="1.85" fill="#000" opacity="0.42" filter="url(#b12)"/>
<rect x="410.50" y="271.50" width="19.00" height="9.00" rx="4.50" fill="#000" opacity="0.14300000000000002" filter="url(#b20)"/>
<rect x="412.50" y="274.40" width="15.00" height="3.20" rx="1.60" fill="#000" opacity="0.33" filter="url(#b12)"/>
<rect x="432.50" y="271.50" width="16.00" height="9.00" rx="4.50" fill="#000" opacity="0.14300000000000002" filter="url(#b20)"/>
<rect x="434.50" y="274.40" width="12.00" height="3.20" rx="1.60" fill="#000" opacity="0.33" filter="url(#b12)"/>
</g>
<rect x="255.5" y="239.3" width="198.3" height="49.3" fill="none" stroke="#333" stroke-width="0.6"/>
<rect x="255.5" y="291.3" width="198.3" height="13.2" fill="#d9d9d9"/>
<g clip-path="url(#c2b)">
<rect x="257.25" y="293.95" width="25.50" height="6.70" rx="3.35" fill="#000" opacity="0.28" filter="url(#b12)"/>
<rect x="258.80" y="295.55" width="22.40" height="3.50" rx="1.60" fill="#000" opacity="1.0" filter="url(#b08)"/>
<rect x="278.75" y="294.15" width="26.00" height="6.30" rx="3.15" fill="#000" opacity="0.28" filter="url(#b12)"/>
<rect x="280.30" y="295.75" width="22.90" height="3.10" rx="1.60" fill="#000" opacity="1.0" filter="url(#b08)"/>
<rect x="300.75" y="294.15" width="27.00" height="6.30" rx="3.15" fill="#000" opacity="0.28" filter="url(#b12)"/>
<rect x="302.30" y="295.75" width="23.90" height="3.10" rx="1.60" fill="#000" opacity="1.0" filter="url(#b08)"/>
<rect x="323.75" y="293.65" width="26.00" height="6.30" rx="3.15" fill="#000" opacity="0.28" filter="url(#b12)"/>
<rect x="325.30" y="295.25" width="22.90" height="3.10" rx="1.60" fill="#000" opacity="1.0" filter="url(#b08)"/>
<rect x="345.75" y="294.85" width="23.50" height="6.30" rx="3.15" fill="#000" opacity="0.28" filter="url(#b12)"/>
<rect x="347.30" y="296.45" width="20.40" height="3.10" rx="1.60" fill="#000" opacity="1.0" filter="url(#b08)"/>
<rect x="367.75" y="294.70" width="21.50" height="5.80" rx="2.90" fill="#000" opacity="0.25200000000000006" filter="url(#b12)"/>
<rect x="369.30" y="296.30" width="18.40" height="2.60" rx="1.60" fill="#000" opacity="0.9" filter="url(#b08)"/>
<rect x="388.75" y="294.70" width="21.00" height="5.80" rx="2.90" fill="#000" opacity="0.25200000000000006" filter="url(#b12)"/>
<rect x="390.30" y="296.30" width="17.90" height="2.60" rx="1.60" fill="#000" opacity="0.9" filter="url(#b08)"/>
<rect x="410.25" y="294.70" width="21.00" height="5.80" rx="2.90" fill="#000" opacity="0.25200000000000006" filter="url(#b12)"/>
<rect x="411.80" y="296.30" width="17.90" height="2.60" rx="1.60" fill="#000" opacity="0.9" filter="url(#b08)"/>
<rect x="431.75" y="294.60" width="18.50" height="7.20" rx="3.60" fill="#000" opacity="0.196" filter="url(#b12)"/>
<rect x="433.30" y="296.20" width="15.40" height="4.00" rx="1.60" fill="#000" opacity="0.7" filter="url(#b08)"/>
</g>
<rect x="255.5" y="291.3" width="198.3" height="13.2" fill="none" stroke="#333" stroke-width="0.6"/>
<text x="269.30" y="247.20" font-size="5.8" text-anchor="middle" font-weight="normal" fill="#222" stroke="#222" stroke-width="0.08">1</text>
<text x="290.00" y="247.20" font-size="5.8" text-anchor="middle" font-weight="normal" fill="#222" stroke="#222" stroke-width="0.08">2.1</text>
<text x="315.00" y="247.20" font-size="5.8" text-anchor="middle" font-weight="normal" fill="#222" stroke="#222" stroke-width="0.08">2</text>
<text x="333.30" y="247.20" font-size="5.8" text-anchor="middle" font-weight="normal" fill="#222" stroke="#222" stroke-width="0.08">2</text>
<text x="354.30" y="247.20" font-size="5.8" text-anchor="middle" font-weight="normal" fill="#222" stroke="#222" stroke-width="0.08">2.3</text>
<text x="375.50" y="247.20" font-size="5.8" text-anchor="middle" font-weight="normal" fill="#222" stroke="#222" stroke-width="0.08">2.1</text>
<text x="396.80" y="247.20" font-size="5.8" text-anchor="middle" font-weight="normal" fill="#222" stroke="#222" stroke-width="0.08">2</text>
<text x="418.00" y="247.20" font-size="5.8" text-anchor="middle" font-weight="normal" fill="#222" stroke="#222" stroke-width="0.08">1.6</text>
<text x="439.50" y="247.20" font-size="5.8" text-anchor="middle" font-weight="normal" fill="#222" stroke="#222" stroke-width="0.08">1.4</text>
<text x="7.90" y="247.40" font-size="6.0" text-anchor="start" font-weight="normal" fill="#111" stroke="#111" stroke-width="0.08">Bim/Tubulin</text>
<text x="19.2" y="259.3" font-size="7.9" fill="#000">Bim<tspan font-size="5.6" dy="2.5">EL</tspan></text>
<text x="22.8" y="276.6" font-size="7.9" fill="#000">Bim<tspan font-size="5.6" dy="2.5">L</tspan></text>
<text x="15.80" y="299.30" font-size="7.3" text-anchor="start" font-weight="normal" fill="#000" stroke="#000" stroke-width="0.1">Tubulin</text>
<line x1="453.6" y1="238.60000000000002" x2="456.3" y2="238.60000000000002" stroke="#111" stroke-width="0.8"/>
<text x="457.80" y="240.80" font-size="6.25" text-anchor="start" font-weight="normal" fill="#111" stroke="#111" stroke-width="0.08">30 KDa</text>
<line x1="453.6" y1="262.8" x2="456.3" y2="262.8" stroke="#111" stroke-width="0.8"/>
<text x="457.80" y="265.00" font-size="6.25" text-anchor="start" font-weight="normal" fill="#111" stroke="#111" stroke-width="0.08">20 KDa</text>
<line x1="453.6" y1="289.1" x2="456.3" y2="289.1" stroke="#111" stroke-width="0.8"/>
<text x="457.80" y="291.30" font-size="6.25" text-anchor="start" font-weight="normal" fill="#111" stroke="#111" stroke-width="0.08">60 KDa</text>
<line x1="453.6" y1="304.8" x2="456.3" y2="304.8" stroke="#111" stroke-width="0.8"/>
<text x="457.80" y="307.00" font-size="6.25" text-anchor="start" font-weight="normal" fill="#111" stroke="#111" stroke-width="0.08">50 KDa</text>
<text transform="translate(61.10,311.90) rotate(-45)" font-size="7.5" text-anchor="end" font-weight="normal" fill="#000" stroke="#000" stroke-width="0.1">Con</text>
<text transform="translate(83.00,311.90) rotate(-45)" font-size="7.5" text-anchor="end" font-weight="normal" fill="#000" stroke="#000" stroke-width="0.1">10000</text>
<text transform="translate(105.30,311.90) rotate(-45)" font-size="7.5" text-anchor="end" font-weight="normal" fill="#000" stroke="#000" stroke-width="0.1">1000</text>
<text transform="translate(126.80,311.90) rotate(-45)" font-size="7.5" text-anchor="end" font-weight="normal" fill="#000" stroke="#000" stroke-width="0.1">100</text>
<text transform="translate(148.80,311.90) rotate(-45)" font-size="7.5" text-anchor="end" font-weight="normal" fill="#000" stroke="#000" stroke-width="0.1">10</text>
<text transform="translate(170.80,311.90) rotate(-45)" font-size="7.5" text-anchor="end" font-weight="normal" fill="#000" stroke="#000" stroke-width="0.1">1</text>
<text transform="translate(192.80,311.90) rotate(-45)" font-size="7.5" text-anchor="end" font-weight="normal" fill="#000" stroke="#000" stroke-width="0.1">0.1</text>
<text transform="translate(214.80,311.90) rotate(-45)" font-size="7.5" text-anchor="end" font-weight="normal" fill="#000" stroke="#000" stroke-width="0.1">0.01</text>
<text transform="translate(236.10,311.90) rotate(-45)" font-size="7.5" text-anchor="end" font-weight="normal" fill="#000" stroke="#000" stroke-width="0.1">0.001</text>
<text transform="translate(274.80,311.90) rotate(-45)" font-size="7.5" text-anchor="end" font-weight="normal" fill="#000" stroke="#000" stroke-width="0.1">Con</text>
<text transform="translate(297.30,311.90) rotate(-45)" font-size="7.5" text-anchor="end" font-weight="normal" fill="#000" stroke="#000" stroke-width="0.1">10000</text>
<text transform="translate(319.80,311.90) rotate(-45)" font-size="7.5" text-anchor="end" font-weight="normal" fill="#000" stroke="#000" stroke-width="0.1">1000</text>
<text transform="translate(342.30,311.90) rotate(-45)" font-size="7.5" text-anchor="end" font-weight="normal" fill="#000" stroke="#000" stroke-width="0.1">100</text>
<text transform="translate(362.60,311.90) rotate(-45)" font-size="7.5" text-anchor="end" font-weight="normal" fill="#000" stroke="#000" stroke-width="0.1">10</text>
<text transform="translate(383.60,311.90) rotate(-45)" font-size="7.5" text-anchor="end" font-weight="normal" fill="#000" stroke="#000" stroke-width="0.1">1</text>
<text transform="translate(406.30,311.90) rotate(-45)" font-size="7.5" text-anchor="end" font-weight="normal" fill="#000" stroke="#000" stroke-width="0.1">0.1</text>
<text transform="translate(428.30,311.90) rotate(-45)" font-size="7.5" text-anchor="end" font-weight="normal" fill="#000" stroke="#000" stroke-width="0.1">0.01</text>
<text transform="translate(449.60,311.90) rotate(-45)" font-size="7.5" text-anchor="end" font-weight="normal" fill="#000" stroke="#000" stroke-width="0.1">0.001</text>
<text transform="translate(144.40,338.60) rotate(0) scale(0.7,1)" font-size="9.2" text-anchor="middle" fill="#111" stroke="#111" stroke-width="0.22">PLX5 (nM)</text>
<text transform="translate(357.30,338.60) rotate(0) scale(0.7,1)" font-size="9.2" text-anchor="middle" fill="#111" stroke="#111" stroke-width="0.22">PLX2 (nM)</text>
<text x="10.00" y="366.60" font-size="10.8" text-anchor="start" font-weight="bold" fill="#000" stroke="#000" stroke-width="0.5">C</text>
<rect x="39.90" y="442.19" width="12.50" height="21.21" fill="#e2e2e5"/>
<rect x="56.20" y="415.55" width="13.00" height="47.85" fill="#c0c1c7"/>
<rect x="72.80" y="414.25" width="12.70" height="49.15" fill="#9395a4"/>
<line x1="32.6" y1="372.8" x2="32.6" y2="464.0" stroke="#000" stroke-width="1.2"/>
<line x1="32.0" y1="463.65" x2="93.6" y2="463.65" stroke="#000" stroke-width="1.2"/>
<line x1="29.400000000000002" y1="463.40" x2="32.6" y2="463.40" stroke="#000" stroke-width="1.0"/>
<text x="27.10" y="466.20" font-size="8" text-anchor="end" font-weight="normal" fill="#000" stroke="#000" stroke-width="0.1">0</text>
<line x1="29.400000000000002" y1="441.65" x2="32.6" y2="441.65" stroke="#000" stroke-width="1.0"/>
<text x="27.10" y="444.45" font-size="8" text-anchor="end" font-weight="normal" fill="#000" stroke="#000" stroke-width="0.1">1</text>
<line x1="29.400000000000002" y1="419.90" x2="32.6" y2="419.90" stroke="#000" stroke-width="1.0"/>
<text x="27.10" y="422.70" font-size="8" text-anchor="end" font-weight="normal" fill="#000" stroke="#000" stroke-width="0.1">2</text>
<line x1="29.400000000000002" y1="398.15" x2="32.6" y2="398.15" stroke="#000" stroke-width="1.0"/>
<text x="27.10" y="400.95" font-size="8" text-anchor="end" font-weight="normal" fill="#000" stroke="#000" stroke-width="0.1">3</text>
<line x1="29.400000000000002" y1="376.40" x2="32.6" y2="376.40" stroke="#000" stroke-width="1.0"/>
<text x="27.10" y="379.20" font-size="8" text-anchor="end" font-weight="normal" fill="#000" stroke="#000" stroke-width="0.1">4</text>
<line x1="46.15" y1="463.4" x2="46.15" y2="466.59999999999997" stroke="#000" stroke-width="1.0"/>
<text transform="translate(49.05,472.10) rotate(-45)" font-size="8" text-anchor="end" font-weight="normal" fill="#000" stroke="#000" stroke-width="0.1">Con</text>
<line x1="62.70" y1="463.4" x2="62.70" y2="466.59999999999997" stroke="#000" stroke-width="1.0"/>
<text transform="translate(65.60,472.10) rotate(-45)" font-size="8" text-anchor="end" font-weight="normal" fill="#000" stroke="#000" stroke-width="0.1">PLX5</text>
<line x1="79.15" y1="463.4" x2="79.15" y2="466.59999999999997" stroke="#000" stroke-width="1.0"/>
<text transform="translate(82.05,472.10) rotate(-45)" font-size="8" text-anchor="end" font-weight="normal" fill="#000" stroke="#000" stroke-width="0.1">PLX2</text>
<text transform="translate(15.20,418.80) rotate(-90) scale(0.75,1)" font-size="8.8" text-anchor="middle" fill="#111" stroke="#111" stroke-width="0.22">Fold change (Bim<tspan font-size="6" dy="1.9" stroke-width="0.15">EL</tspan><tspan dy="-1.9">)</tspan></text>
<path d="M79.3,414.3 V409.3 M76.3,409.3 H82.5" stroke="#000" stroke-width="0.8" fill="none"/>
<circle cx="41.80" cy="442.20" r="2.5" fill="#2d55a3" stroke="#07122e" stroke-width="0.95"/>
<circle cx="46.20" cy="442.20" r="2.5" fill="#2d55a3" stroke="#07122e" stroke-width="0.95"/>
<circle cx="50.50" cy="442.20" r="2.5" fill="#2d55a3" stroke="#07122e" stroke-width="0.95"/>
<rect x="56.25" y="413.45" width="4.9" height="4.9" fill="#6bbd45" stroke="#0b2205" stroke-width="0.95"/>
<rect x="60.45" y="410.55" width="4.9" height="4.9" fill="#6bbd45" stroke="#0b2205" stroke-width="0.95"/>
<rect x="64.55" y="411.45" width="4.9" height="4.9" fill="#6bbd45" stroke="#0b2205" stroke-width="0.95"/>
<circle cx="75.10" cy="419.90" r="2.5" fill="#f7941d" stroke="#1d0e00" stroke-width="0.95"/>
<circle cx="79.30" cy="405.00" r="2.5" fill="#f7941d" stroke="#1d0e00" stroke-width="0.95"/>
<circle cx="83.30" cy="417.00" r="2.5" fill="#f7941d" stroke="#1d0e00" stroke-width="0.95"/>
<path d="M45.80,399.30 V398.10 H79.70 V399.30" fill="none" stroke="#000" stroke-width="0.85"/>
<text x="62.75" y="397.80" font-size="8" text-anchor="middle" font-weight="normal" fill="#000" stroke="#000" stroke-width="0.1">*</text>
<path d="M45.80,408.20 V407.00 H62.90 V408.20" fill="none" stroke="#000" stroke-width="0.85"/>
<text x="54.35" y="406.70" font-size="8" text-anchor="middle" font-weight="normal" fill="#000" stroke="#000" stroke-width="0.1">**</text>
<text x="426.80" y="366.60" font-size="10.8" text-anchor="start" font-weight="bold" fill="#000" stroke="#000" stroke-width="0.5">E</text>
<rect x="460.00" y="434.79" width="12.50" height="28.61" fill="#e2e2e5"/>
<rect x="476.30" y="415.90" width="13.00" height="47.50" fill="#c0c1c7"/>
<rect x="492.80" y="416.05" width="12.80" height="47.35" fill="#9395a4"/>
<line x1="453.5" y1="372.8" x2="453.5" y2="464.0" stroke="#000" stroke-width="1.2"/>
<line x1="452.9" y1="463.65" x2="512.4" y2="463.65" stroke="#000" stroke-width="1.2"/>
<line x1="450.3" y1="463.40" x2="453.5" y2="463.40" stroke="#000" stroke-width="1.0"/>
<text x="448.00" y="466.20" font-size="8" text-anchor="end" font-weight="normal" fill="#000" stroke="#000" stroke-width="0.1">0</text>
<line x1="450.3" y1="434.35" x2="453.5" y2="434.35" stroke="#000" stroke-width="1.0"/>
<text x="448.00" y="437.15" font-size="8" text-anchor="end" font-weight="normal" fill="#000" stroke="#000" stroke-width="0.1">1</text>
<line x1="450.3" y1="405.30" x2="453.5" y2="405.30" stroke="#000" stroke-width="1.0"/>
<text x="448.00" y="408.10" font-size="8" text-anchor="end" font-weight="normal" fill="#000" stroke="#000" stroke-width="0.1">2</text>
<line x1="450.3" y1="376.25" x2="453.5" y2="376.25" stroke="#000" stroke-width="1.0"/>
<text x="448.00" y="379.05" font-size="8" text-anchor="end" font-weight="normal" fill="#000" stroke="#000" stroke-width="0.1">3</text>
<line x1="466.25" y1="463.4" x2="466.25" y2="466.59999999999997" stroke="#000" stroke-width="1.0"/>
<text transform="translate(469.15,472.10) rotate(-45)" font-size="8" text-anchor="end" font-weight="normal" fill="#000" stroke="#000" stroke-width="0.1">Con</text>
<line x1="482.80" y1="463.4" x2="482.80" y2="466.59999999999997" stroke="#000" stroke-width="1.0"/>
<text transform="translate(485.70,472.10) rotate(-45)" font-size="8" text-anchor="end" font-weight="normal" fill="#000" stroke="#000" stroke-width="0.1">PLX5</text>
<line x1="499.20" y1="463.4" x2="499.20" y2="466.59999999999997" stroke="#000" stroke-width="1.0"/>
<text transform="translate(502.10,472.10) rotate(-45)" font-size="8" text-anchor="end" font-weight="normal" fill="#000" stroke="#000" stroke-width="0.1">PLX2</text>
<text transform="translate(435.40,418.60) rotate(-90) scale(0.75,1)" font-size="8.8" text-anchor="middle" fill="#111" stroke="#111" stroke-width="0.22">Fold change (Bim<tspan font-size="6" dy="1.9" stroke-width="0.15">EL</tspan><tspan dy="-1.9">/BCL-2)</tspan></text>
<path d="M499.3,416 V412.4 M496.3,412.4 H502.4" stroke="#000" stroke-width="0.8" fill="none"/>
<circle cx="462.20" cy="434.80" r="2.5" fill="#2d55a3" stroke="#07122e" stroke-width="0.95"/>
<circle cx="466.20" cy="434.80" r="2.5" fill="#2d55a3" stroke="#07122e" stroke-width="0.95"/>
<circle cx="470.20" cy="434.80" r="2.5" fill="#2d55a3" stroke="#07122e" stroke-width="0.95"/>
<rect x="480.25" y="419.25" width="4.9" height="4.9" fill="#6bbd45" stroke="#0b2205" stroke-width="0.95"/>
<rect x="480.25" y="413.35" width="4.9" height="4.9" fill="#6bbd45" stroke="#0b2205" stroke-width="0.95"/>
<rect x="480.25" y="407.65" width="4.9" height="4.9" fill="#6bbd45" stroke="#0b2205" stroke-width="0.95"/>
<circle cx="495.40" cy="420.80" r="2.5" fill="#f7941d" stroke="#1d0e00" stroke-width="0.95"/>
<circle cx="499.20" cy="409.50" r="2.5" fill="#f7941d" stroke="#1d0e00" stroke-width="0.95"/>
<circle cx="503.20" cy="418.40" r="2.5" fill="#f7941d" stroke="#1d0e00" stroke-width="0.95"/>
<path d="M466.10,396.10 V394.90 H499.70 V396.10" fill="none" stroke="#000" stroke-width="0.85"/>
<text x="482.90" y="394.60" font-size="8" text-anchor="middle" font-weight="normal" fill="#000" stroke="#000" stroke-width="0.1">*</text>
<path d="M466.10,404.80 V403.60 H482.70 V404.80" fill="none" stroke="#000" stroke-width="0.85"/>
<text x="474.40" y="403.30" font-size="8" text-anchor="middle" font-weight="normal" fill="#000" stroke="#000" stroke-width="0.1">*</text>
<text x="108.60" y="366.40" font-size="10.8" text-anchor="start" font-weight="bold" fill="#000" stroke="#000" stroke-width="0.5">D</text>
<text x="175.30" y="397.40" font-size="6.3" text-anchor="middle" font-weight="normal" fill="#111" stroke="#111" stroke-width="0.08">Input</text>
<line x1="147" y1="401.3" x2="203.3" y2="401.3" stroke="#333" stroke-width="1.15"/>
<clipPath id="cd1"><rect x="136.3" y="405" width="77" height="39.3"/></clipPath>
<clipPath id="cd2"><rect x="136.3" y="448.4" width="77" height="14.8"/></clipPath>
<rect x="136.3" y="405" width="77" height="39.3" fill="url(#gD)"/>
<g clip-path="url(#cd1)">
<rect x="138.00" y="414.20" width="23.50" height="8.40" rx="4.20" fill="#000" opacity="0.35" filter="url(#b12)"/>
<rect x="140.25" y="416.50" width="19.00" height="3.80" rx="1.90" fill="#000" opacity="1.0" filter="url(#b08)"/>
<rect x="163.00" y="413.20" width="24.30" height="10.60" rx="5.30" fill="#000" opacity="0.35" filter="url(#b12)"/>
<rect x="165.25" y="415.50" width="19.80" height="6.00" rx="3.00" fill="#000" opacity="1.0" filter="url(#b08)"/>
<rect x="186.50" y="412.35" width="26.50" height="12.50" rx="6.25" fill="#000" opacity="0.35" filter="url(#b12)"/>
<rect x="188.75" y="414.65" width="22.00" height="7.90" rx="3.95" fill="#000" opacity="1.0" filter="url(#b08)"/>
<rect x="138.50" y="431.65" width="21.00" height="6.50" rx="3.25" fill="#000" opacity="0.18" filter="url(#b12)"/>
<rect x="140.25" y="433.65" width="17.50" height="2.50" rx="1.25" fill="#000" opacity="0.6" filter="url(#b08)"/>
<rect x="164.50" y="432.45" width="20.00" height="7.10" rx="3.55" fill="#000" opacity="0.22499999999999998" filter="url(#b12)"/>
<rect x="166.25" y="434.45" width="16.50" height="3.10" rx="1.55" fill="#000" opacity="0.75" filter="url(#b08)"/>
<rect x="187.50" y="432.55" width="22.00" height="7.50" rx="3.75" fill="#000" opacity="0.285" filter="url(#b12)"/>
<rect x="189.25" y="434.55" width="18.50" height="3.50" rx="1.75" fill="#000" opacity="0.95" filter="url(#b08)"/>
</g>
<rect x="136.3" y="405" width="77" height="39.3" fill="none" stroke="#4a4a4a" stroke-width="0.9"/>
<rect x="136.3" y="448.4" width="77" height="14.8" fill="#c9c9c9"/>
<g clip-path="url(#cd2)">
<rect x="142.00" y="451.00" width="66.00" height="3.00" rx="1.50" fill="#000" opacity="0.08" filter="url(#b12)"/>
<rect x="140" y="457" width="70" height="1.4" fill="#000" opacity="0.55" filter="url(#b05)"/>
<rect x="137.50" y="454.60" width="25.00" height="5.60" rx="2.80" fill="#000" opacity="0.25" filter="url(#b12)"/>
<rect x="139.00" y="456.05" width="22.00" height="2.70" rx="1.35" fill="#000" opacity="0.95" filter="url(#b05)"/>
<rect x="163.00" y="455.00" width="24.50" height="5.20" rx="2.60" fill="#000" opacity="0.25" filter="url(#b12)"/>
<rect x="164.50" y="456.45" width="21.50" height="2.30" rx="1.15" fill="#000" opacity="0.95" filter="url(#b05)"/>
<rect x="187.50" y="454.90" width="24.50" height="5.40" rx="2.70" fill="#000" opacity="0.25" filter="url(#b12)"/>
<rect x="189.00" y="456.35" width="21.50" height="2.50" rx="1.25" fill="#000" opacity="0.95" filter="url(#b05)"/>
</g>
<rect x="136.3" y="448.4" width="77" height="14.8" fill="none" stroke="#4a4a4a" stroke-width="0.9"/>
<text x="107.90" y="412.10" font-size="6.2" text-anchor="start" font-weight="normal" fill="#111" stroke="#111" stroke-width="0.08">Bim/Actin</text>
<text x="150.00" y="412.20" font-size="5.8" text-anchor="middle" font-weight="normal" fill="#111" stroke="#111" stroke-width="0.08">1</text>
<text x="174.50" y="412.20" font-size="5.8" text-anchor="middle" font-weight="normal" fill="#111" stroke="#111" stroke-width="0.08">2</text>
<text x="199.30" y="412.20" font-size="5.8" text-anchor="middle" font-weight="normal" fill="#111" stroke="#111" stroke-width="0.08">2.4</text>
<text x="114" y="422.7" font-size="7.9" fill="#000">Bim<tspan font-size="5.6" dy="2.5">EL</tspan></text>
<text x="117.7" y="438.5" font-size="7.9" fill="#000">Bim<tspan font-size="5.6" dy="2.5">L</tspan></text>
<text x="116.80" y="458.80" font-size="7.3" text-anchor="start" font-weight="normal" fill="#000" stroke="#000" stroke-width="0.1">Actin</text>
<line x1="214.2" y1="402.3" x2="216.9" y2="402.3" stroke="#111" stroke-width="0.8"/>
<text x="218.60" y="404.50" font-size="6.2" text-anchor="start" font-weight="normal" fill="#111" stroke="#111" stroke-width="0.08">30 KDa</text>
<line x1="214.2" y1="425.8" x2="216.9" y2="425.8" stroke="#111" stroke-width="0.8"/>
<text x="218.60" y="428.00" font-size="6.2" text-anchor="start" font-weight="normal" fill="#111" stroke="#111" stroke-width="0.08">20 KDa</text>
<line x1="214.2" y1="447.4" x2="216.9" y2="447.4" stroke="#111" stroke-width="0.8"/>
<text x="218.60" y="449.60" font-size="6.2" text-anchor="start" font-weight="normal" fill="#111" stroke="#111" stroke-width="0.08">50 KDa</text>
<line x1="214.2" y1="463.4" x2="216.9" y2="463.4" stroke="#111" stroke-width="0.8"/>
<text x="218.60" y="465.60" font-size="6.2" text-anchor="start" font-weight="normal" fill="#111" stroke="#111" stroke-width="0.08">40 KDa</text>
<text transform="translate(153.60,471.00) rotate(-45)" font-size="7.8" text-anchor="end" font-weight="normal" fill="#000" stroke="#000" stroke-width="0.1">Con</text>
<text transform="translate(179.30,471.00) rotate(-45)" font-size="7.8" text-anchor="end" font-weight="normal" fill="#000" stroke="#000" stroke-width="0.1">PLX5</text>
<text transform="translate(205.80,471.00) rotate(-45)" font-size="7.8" text-anchor="end" font-weight="normal" fill="#000" stroke="#000" stroke-width="0.1">PLX2</text>
<text x="324.20" y="383.00" font-size="6.45" text-anchor="middle" font-weight="normal" fill="#111" stroke="#111" stroke-width="0.08">IP: Bcl-2</text>
<line x1="296.3" y1="386.3" x2="352" y2="386.3" stroke="#333" stroke-width="1.15"/>
<text x="371.80" y="383.00" font-size="6.2" text-anchor="middle" font-weight="normal" fill="#111" stroke="#111" stroke-width="0.08">IP: Iso</text>
<line x1="363" y1="386.3" x2="380.8" y2="386.3" stroke="#333" stroke-width="1.15"/>
<clipPath id="ci1"><rect x="278.3" y="389.6" width="107" height="55"/></clipPath>
<clipPath id="ci2"><rect x="278.3" y="449" width="107" height="14.3"/></clipPath>
<rect x="278.3" y="389.6" width="107" height="55" fill="url(#gIP)"/>
<g clip-path="url(#ci1)">
<rect x="361.5" y="386" width="30" height="62" fill="#c9c9c9" filter="url(#b12)"/>
<rect x="362.00" y="399.00" width="22.00" height="7.00" rx="3.50" fill="#000" opacity="0.34" filter="url(#b35)"/>
<rect x="359.5" y="389" width="2.5" height="30" fill="#000" opacity="0.12" filter="url(#b12)"/>
<rect x="287" y="386" width="25" height="34" fill="#000" opacity="0.1" filter="url(#b20)"/>
<rect x="316" y="386" width="18" height="34" fill="#000" opacity="0.2" filter="url(#b20)"/>
<rect x="339.5" y="386" width="19.5" height="34" fill="#000" opacity="0.18" filter="url(#b20)"/>
<rect x="316" y="386" width="18" height="19" fill="#000" opacity="0.18" filter="url(#b20)"/>
<rect x="339.5" y="386" width="19.5" height="19" fill="#000" opacity="0.16" filter="url(#b20)"/>
<rect x="316.0" y="386" width="3.2" height="33" fill="#000" opacity="0.30" filter="url(#b12)"/>
<rect x="339.5" y="386" width="3.2" height="33" fill="#000" opacity="0.30" filter="url(#b12)"/>
<rect x="286.00" y="399.50" width="27.00" height="7.00" rx="2.00" fill="#000" opacity="0.26" filter="url(#b20)"/>
<rect x="315.00" y="399.50" width="20.00" height="7.00" rx="2.00" fill="#000" opacity="0.2" filter="url(#b20)"/>
<rect x="338.50" y="399.50" width="21.50" height="7.00" rx="2.00" fill="#000" opacity="0.18" filter="url(#b20)"/>
<rect x="287.00" y="409.05" width="25.00" height="4.50" rx="2.00" fill="#c4c4c4" opacity="0.3" filter="url(#b20)"/>
<rect x="318.00" y="409.05" width="16.00" height="4.50" rx="2.00" fill="#c4c4c4" opacity="0.2" filter="url(#b20)"/>
<rect x="342.00" y="409.05" width="17.00" height="4.50" rx="2.00" fill="#c4c4c4" opacity="0.2" filter="url(#b20)"/>
<rect x="287.00" y="415.05" width="25.00" height="3.50" rx="1.50" fill="#000" opacity="0.25" filter="url(#b12)"/>
<rect x="316.00" y="415.05" width="18.00" height="3.50" rx="1.50" fill="#000" opacity="0.3" filter="url(#b12)"/>
<rect x="339.50" y="415.05" width="19.50" height="3.50" rx="1.50" fill="#000" opacity="0.3" filter="url(#b12)"/>
<rect x="286.25" y="417.25" width="27.10" height="5.30" rx="2.65" fill="#000" opacity="0.25" filter="url(#b12)"/>
<rect x="287.50" y="418.75" width="24.60" height="2.30" rx="1.15" fill="#000" opacity="0.75" filter="url(#b05)"/>
<rect x="314.75" y="416.80" width="20.50" height="6.20" rx="3.10" fill="#000" opacity="0.25" filter="url(#b12)"/>
<rect x="316.00" y="418.30" width="18.00" height="3.20" rx="1.60" fill="#000" opacity="0.95" filter="url(#b05)"/>
<rect x="338.45" y="416.70" width="21.50" height="6.40" rx="3.20" fill="#000" opacity="0.25" filter="url(#b12)"/>
<rect x="339.70" y="418.20" width="19.00" height="3.40" rx="1.70" fill="#000" opacity="1" filter="url(#b05)"/>
<rect x="300" y="434.2" width="45" height="3.4" fill="#000" opacity="0.25" filter="url(#b12)"/>
<rect x="285.50" y="431.40" width="28.10" height="9.00" rx="4.50" fill="#000" opacity="0.28" filter="url(#b12)"/>
<rect x="287.10" y="433.25" width="24.90" height="5.30" rx="2.65" fill="#000" opacity="1.0" filter="url(#b08)"/>
<rect x="314.30" y="431.50" width="21.50" height="8.80" rx="4.40" fill="#000" opacity="0.28" filter="url(#b12)"/>
<rect x="315.90" y="433.35" width="18.30" height="5.10" rx="2.55" fill="#000" opacity="1.0" filter="url(#b08)"/>
<rect x="338.00" y="431.60" width="22.00" height="8.60" rx="4.30" fill="#000" opacity="0.28" filter="url(#b12)"/>
<rect x="339.60" y="433.45" width="18.80" height="4.90" rx="2.45" fill="#000" opacity="1.0" filter="url(#b08)"/>
</g>
<rect x="278.3" y="389.6" width="107" height="55" fill="none" stroke="#4a4a4a" stroke-width="0.9"/>
<rect x="278.3" y="449" width="107" height="14.3" fill="#c6c6c6"/>
<g clip-path="url(#ci2)">
<rect x="362" y="446" width="30" height="20" fill="#dadada" filter="url(#b12)"/>
<rect x="283.50" y="454.15" width="29.00" height="6.10" rx="3.05" fill="#000" opacity="0.28" filter="url(#b12)"/>
<rect x="285.00" y="455.85" width="26.00" height="2.70" rx="1.35" fill="#000" opacity="1" filter="url(#b05)"/>
<rect x="314.50" y="454.15" width="22.50" height="6.10" rx="3.05" fill="#000" opacity="0.28" filter="url(#b12)"/>
<rect x="316.00" y="455.85" width="19.50" height="2.70" rx="1.35" fill="#000" opacity="1" filter="url(#b05)"/>
<rect x="338.50" y="454.05" width="23.50" height="6.30" rx="3.15" fill="#000" opacity="0.28" filter="url(#b12)"/>
<rect x="340.00" y="455.75" width="20.50" height="2.90" rx="1.45" fill="#000" opacity="1" filter="url(#b05)"/>
</g>
<rect x="278.3" y="449" width="107" height="14.3" fill="none" stroke="#4a4a4a" stroke-width="0.9"/>
<text x="301.30" y="412.30" font-size="5.8" text-anchor="middle" font-weight="normal" fill="#111" stroke="#111" stroke-width="0.08">1</text>
<text x="326.30" y="412.30" font-size="5.8" text-anchor="middle" font-weight="normal" fill="#111" stroke="#111" stroke-width="0.08">1.5</text>
<text x="348.80" y="412.30" font-size="5.8" text-anchor="middle" font-weight="normal" fill="#111" stroke="#111" stroke-width="0.08">1.9</text>
<path d="M271.6,401.8 L276,403.7 L271.6,405.6 Z" fill="#000"/>
<circle cx="281.2" cy="433" r="0.5" fill="#222"/>
<text x="246.60" y="412.40" font-size="6.1" text-anchor="start" font-weight="normal" fill="#111" stroke="#111" stroke-width="0.08">Bim/Bcl-2</text>
<text x="254.7" y="423.5" font-size="7.9" fill="#000">Bim<tspan font-size="5.6" dy="2.5">EL</tspan></text>
<text x="258.5" y="438.5" font-size="7.9" fill="#000">Bim<tspan font-size="5.6" dy="2.5">L</tspan></text>
<text x="256.80" y="459.10" font-size="7.3" text-anchor="start" font-weight="normal" fill="#000" stroke="#000" stroke-width="0.1">Bcl-2</text>
<line x1="386.3" y1="393.8" x2="388.8" y2="393.8" stroke="#111" stroke-width="0.8"/>
<text x="391.00" y="396.00" font-size="6.2" text-anchor="start" font-weight="normal" fill="#111" stroke="#111" stroke-width="0.08">30 KDa</text>
<line x1="386.3" y1="425.8" x2="388.8" y2="425.8" stroke="#111" stroke-width="0.8"/>
<text x="391.00" y="428.00" font-size="6.2" text-anchor="start" font-weight="normal" fill="#111" stroke="#111" stroke-width="0.08">20 KDa</text>
<line x1="386.3" y1="447.5" x2="388.8" y2="447.5" stroke="#111" stroke-width="0.8"/>
<text x="391.00" y="449.70" font-size="6.2" text-anchor="start" font-weight="normal" fill="#111" stroke="#111" stroke-width="0.08">30 KDa</text>
<line x1="386.3" y1="468" x2="388.8" y2="468" stroke="#111" stroke-width="0.8"/>
<text x="391.00" y="470.20" font-size="6.2" text-anchor="start" font-weight="normal" fill="#111" stroke="#111" stroke-width="0.08">20 KDa</text>
<text transform="translate(305.50,468.80) rotate(-45)" font-size="7.8" text-anchor="end" font-weight="normal" fill="#000" stroke="#000" stroke-width="0.1">Con</text>
<text transform="translate(333.00,468.80) rotate(-45)" font-size="7.8" text-anchor="end" font-weight="normal" fill="#000" stroke="#000" stroke-width="0.1">PLX5</text>
<text transform="translate(355.80,468.80) rotate(-45)" font-size="7.8" text-anchor="end" font-weight="normal" fill="#000" stroke="#000" stroke-width="0.1">PLX2</text>
<path d="M0,0 H520 V494 H0 Z M1.1,1.05 V492.88 H518.9 V1.05 Z" fill="#000" fill-rule="evenodd"/>
</g></svg></body></html>
